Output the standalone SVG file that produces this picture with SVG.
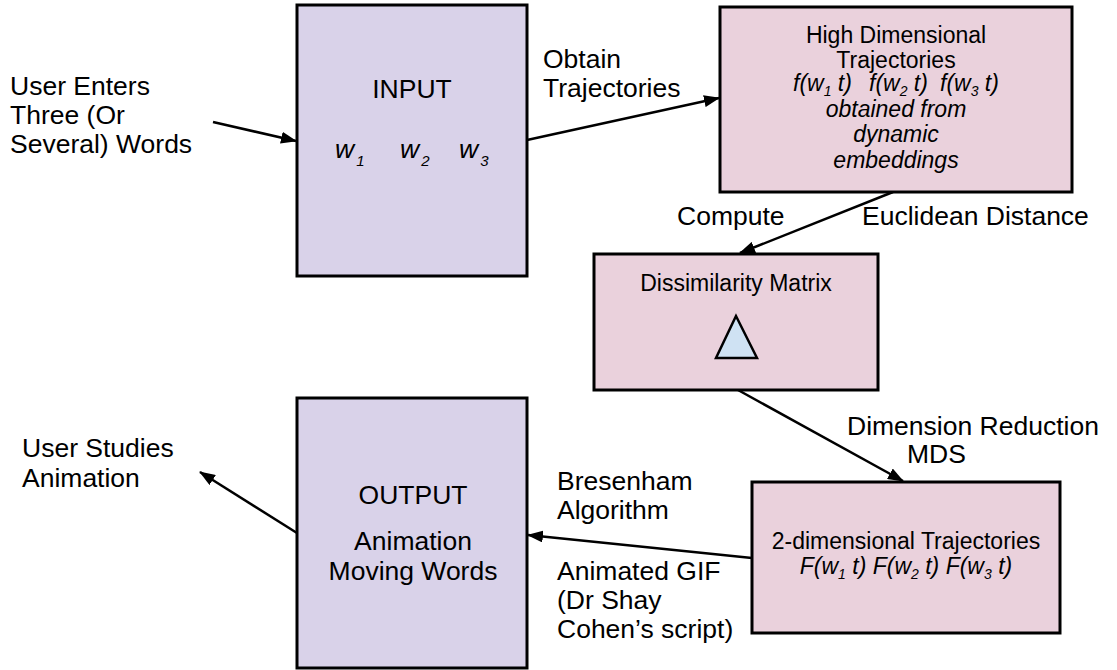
<svg xmlns="http://www.w3.org/2000/svg" width="1117" height="670" viewBox="0 0 1117 670">
  <style>
    text { font-family: "Liberation Sans", Arial, sans-serif; fill: #000; }
    .lbl { font-size: 26.5px; }
    .box-txt { font-size: 23px; }
    .it { font-style: italic; }
    .sub { font-size: 15px; }
    .sub-s { font-size: 14px; }
    .purple { fill: #d9d2e9; stroke: #000; stroke-width: 3; }
    .pink { fill: #ead1dc; stroke: #000; stroke-width: 3; }
    .edge { fill: none; stroke: #000; stroke-width: 2.5; }
  </style>
  <defs>
    <marker id="arrow" viewBox="0 0 16 12" refX="15" refY="6" markerWidth="16" markerHeight="12" markerUnits="userSpaceOnUse" orient="auto">
      <path d="M0,0 L16,6 L0,12 Z" fill="#000"/>
    </marker>
  </defs>

  <rect width="1117" height="670" fill="#fff"/>

  <!-- Flow connectors -->
  <g id="connectors">
    <line class="edge" x1="213" y1="122" x2="296" y2="141" marker-end="url(#arrow)"/>
    <line class="edge" x1="527" y1="140" x2="719" y2="98" marker-end="url(#arrow)"/>
    <line class="edge" x1="893" y1="192" x2="740" y2="253" marker-end="url(#arrow)"/>
    <line class="edge" x1="738" y1="390" x2="903" y2="481" marker-end="url(#arrow)"/>
    <line class="edge" x1="752" y1="558" x2="528" y2="535" marker-end="url(#arrow)"/>
    <line class="edge" x1="297" y1="533" x2="200" y2="472" marker-end="url(#arrow)"/>
  </g>

  <!-- Edge labels -->
  <g id="labels">
    <text class="lbl"><tspan x="10" y="95">User Enters</tspan><tspan x="10" y="124">Three (Or</tspan><tspan x="10" y="153">Several) Words</tspan></text>
    <text class="lbl"><tspan x="543" y="68">Obtain</tspan><tspan x="543" y="97">Trajectories</tspan></text>
    <text class="lbl" x="677" y="225">Compute</text>
    <text class="lbl" x="862" y="225">Euclidean Distance</text>
    <text class="lbl" x="847" y="435">Dimension Reduction</text>
    <text class="lbl" x="907" y="463">MDS</text>
    <text class="lbl"><tspan x="557" y="490">Bresenham</tspan><tspan x="557" y="519">Algorithm</tspan></text>
    <text class="lbl"><tspan x="557" y="580">Animated GIF</tspan><tspan x="557" y="609">(Dr Shay</tspan><tspan x="557" y="638">Cohen’s script)</tspan></text>
    <text class="lbl"><tspan x="22" y="457">User Studies</tspan><tspan x="22" y="487">Animation</tspan></text>
  </g>

  <!-- Input node -->
  <g id="input">
    <rect class="purple" x="297" y="5" width="230" height="271"/>
    <text class="lbl" x="412" y="98" text-anchor="middle">INPUT</text>
    <text class="lbl it" x="335" y="158">w<tspan class="sub" dx="2" dy="8">1</tspan></text>
    <text class="lbl it" x="400" y="158">w<tspan class="sub" dx="2" dy="8">2</tspan></text>
    <text class="lbl it" x="459" y="158">w<tspan class="sub" dx="2" dy="8">3</tspan></text>
  </g>

  <!-- High dimensional trajectories node -->
  <g id="high-dim">
    <rect class="pink" x="720" y="7" width="352" height="185"/>
    <text class="box-txt" x="896" y="43" text-anchor="middle">High Dimensional</text>
    <text class="box-txt" x="896" y="68" text-anchor="middle">Trajectories</text>
    <text class="box-txt it" x="793" y="91">f(w<tspan class="sub-s" dy="5">1</tspan><tspan dy="-5"> t)</tspan></text>
    <text class="box-txt it" x="869" y="91">f(w<tspan class="sub-s" dy="5">2</tspan><tspan dy="-5"> t)</tspan></text>
    <text class="box-txt it" x="940" y="91">f(w<tspan class="sub-s" dy="5">3</tspan><tspan dy="-5"> t)</tspan></text>
    <text class="box-txt it" x="896" y="117" text-anchor="middle">obtained from</text>
    <text class="box-txt it" x="896" y="142" text-anchor="middle">dynamic</text>
    <text class="box-txt it" x="896" y="168" text-anchor="middle">embeddings</text>
  </g>

  <!-- Dissimilarity matrix node -->
  <g id="dissimilarity">
    <rect class="pink" x="594" y="254" width="284" height="136"/>
    <text class="box-txt" x="736" y="291" text-anchor="middle">Dissimilarity Matrix</text>
    <polygon points="736,316 716,358 757,358" fill="#cfe2f3" stroke="#000" stroke-width="2.5"/>
  </g>

  <!-- 2D trajectories node -->
  <g id="two-dim">
    <rect class="pink" x="752" y="482" width="308" height="151"/>
    <text class="box-txt" x="906" y="549" text-anchor="middle">2-dimensional Trajectories</text>
    <text class="box-txt it" x="906" y="574" text-anchor="middle">F(w<tspan class="sub-s" dy="5">1</tspan><tspan dy="-5"> t) F(w</tspan><tspan class="sub-s" dy="5">2</tspan><tspan dy="-5"> t) F(w</tspan><tspan class="sub-s" dy="5">3</tspan><tspan dy="-5"> t)</tspan></text>
  </g>

  <!-- Output node -->
  <g id="output">
    <rect class="purple" x="297" y="398" width="230" height="270"/>
    <text class="lbl" x="413" y="504" text-anchor="middle">OUTPUT</text>
    <text class="lbl" x="413" y="550" text-anchor="middle">Animation</text>
    <text class="lbl" x="413" y="580" text-anchor="middle">Moving Words</text>
  </g>
</svg>
